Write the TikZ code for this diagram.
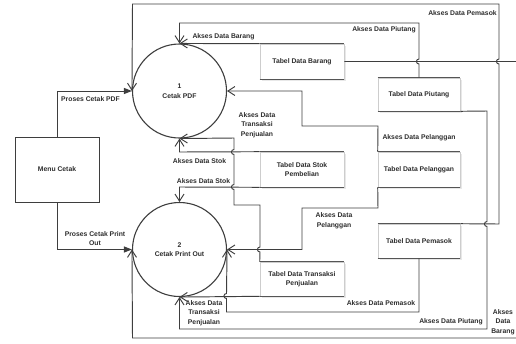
\documentclass[tikz,border=0pt]{standalone}
\usepackage{fontspec}
\setmainfont{Liberation Sans}
\usetikzlibrary{arrows.meta,shadows}

\definecolor{linec}{RGB}{62,62,62}
\definecolor{textc}{RGB}{45,45,45}
\definecolor{storeedge}{RGB}{85,85,85}
\definecolor{storeside}{RGB}{205,205,205}

% small line jumps on vertical connector segments (bulge to the left)
\newcommand\jumpup[2]{-- (#1,#2+2.5) .. controls (#1-3.4,#2+2.5) and (#1-3.4,#2-2.5) .. (#1,#2-2.5)}
\newcommand\jumpdown[2]{-- (#1,#2-2.5) .. controls (#1-3.4,#2-2.5) and (#1-3.4,#2+2.5) .. (#1,#2+2.5)}

\begin{document}
\begin{tikzpicture}[
  x=1pt, y=-1pt,
  font=\fontsize{6.8}{9.5}\selectfont\bfseries,
  flow/.style={draw=linec, line width=0.95pt, -{Straight Barb[length=7pt,width=9pt]}},
  flowfill/.style={draw=linec, line width=0.95pt, -{Triangle[length=8pt,width=6pt]}},
  proc/.style={circle, draw=linec, line width=1.1pt, minimum size=94pt, inner sep=0pt,
    align=center, fill=white, text=textc},
  menubox/.style={rectangle, draw=linec, line width=1pt, fill=white, minimum width=84pt,
    minimum height=65pt, inner sep=0pt, text=textc,
    drop shadow={shadow xshift=1.2pt, shadow yshift=-1.2pt, opacity=0.25}},
  store/.style={rectangle, draw=storeside, line width=0.6pt, fill=white, minimum width=84pt,
    minimum height=35pt, inner sep=0pt, align=center, text=textc,
    drop shadow={shadow xshift=1.5pt, shadow yshift=-1.5pt, opacity=0.18}},
  storeline/.style={draw=storeedge, line width=1.3pt},
  lab/.style={inner sep=0pt, align=center, text=textc}
]
\useasboundingbox (0,0) rectangle (516,343);
\clip (0,0) rectangle (516,343);

% processes
\node[proc] (p1) at (179.5,91) {1\\Cetak PDF};
\node[proc] (p2) at (179.5,249.5) {2\\Cetak Print Out};

% external entity
\node[menubox] (menu) at (57,169.5) {Menu Cetak};

% data stores
\node[store] (barang) at (302,61.5) {Tabel Data Barang};
\node[store, minimum width=82pt, minimum height=33pt] (piutang) at (419,94.5) {Tabel Data Piutang};
\node[store] (stok) at (302,169.5) {Tabel Data Stok\\Pembelian};
\node[store, minimum width=82pt] (pelanggan) at (419,169.5) {Tabel Data Pelanggan};
\node[store, minimum height=34pt] (transaksi) at (302,279) {Tabel Data Transaksi\\Penjualan};
\node[store, minimum width=82pt, minimum height=34pt] (pemasok) at (419,241) {Tabel Data Pemasok};

\foreach \s in {barang,piutang,stok,pelanggan,transaksi,pemasok}{
  \draw[storeline] (\s.north west) -- (\s.north east);
  \draw[storeline] (\s.south west) -- (\s.south east);
}

% flows into Cetak PDF
\draw[flow] (barang.north west) -- (p1.north);
\draw[flow] (piutang.north) \jumpup{419}{61.5} -- (419,23) -- (179.5,23) -- (p1.north);
\draw[flow] (pemasok.north east) -- (499,224) \jumpup{499}{61.5} -- (499,4) -- (132.5,4) -- (p1.west);
\draw[flowfill] (menu.north) -- (57,91) -- (p1.west);
\draw[flow] (pelanggan.north west) -- (378,126) -- (302,126) -- (302,91) -- (p1.east);
\draw[flow] (transaksi.north west) \jumpup{260}{249.5} -- (260,205) -- (234,205)
  \jumpup{234}{187} \jumpup{234}{152} -- (234,138) -- (p1.south);
\draw[flow] (stok.north west) -- (179.5,152) -- (p1.south);

% flows into Cetak Print Out
\draw[flow] (stok.south west) -- (179.5,187) -- (p2.north);
\draw[flowfill] (menu.south) -- (57,249.5) -- (p2.west);
\draw[flow] (pelanggan.south west) -- (378,208) -- (302,208) -- (302,249.5) -- (p2.east);
\draw[flow] (pemasok.south) -- (419,312) -- (226.5,312) \jumpup{226.5}{296} -- (p2.east);
\draw[flow] (transaksi.south west) -- (p2.south);
\draw[flow] (piutang.south east) -- (487,111) \jumpdown{487}{224} -- (487,329) -- (179.5,329) -- (p2.south);
\draw[flow] (barang.east) -- (530,61.5) -- (530,338) -- (132.5,338) -- (p2.west);

% flow labels
\node[lab] (lbarang1) at (223.5,37) {Akses Data Barang};
\node[lab] (lpiutang1) at (384,30) {Akses Data Piutang};
\node[lab] (lpemasok1) at (462.5,13) {Akses Data Pemasok};
\node[lab] (lpdf) at (90.5,99) {Proses Cetak PDF};
\node[lab] (lprint) at (95,238.5) {Proses Cetak Print\\Out};
\node[lab] (ltrans1) at (257,125) {Akses Data\\Transaksi\\Penjualan};
\node[lab] (lpel1) at (419,138) {Akses Data Pelanggan};
\node[lab] (lstok1) at (199.5,161) {Akses Data Stok};
\node[lab] (lstok2) at (203.5,181) {Akses Data Stok};
\node[lab] (lpel2) at (334,221) {Akses Data\\Pelanggan};
\node[lab] (lpemasok2) at (381,303) {Akses Data Pemasok};
\node[lab] (ltrans2) at (204,313) {Akses Data\\Transaksi\\Penjualan};
\node[lab] (lpiutang2) at (451,322) {Akses Data Piutang};
\node[lab] (lbarang2) at (503,322) {Akses\\Data\\Barang};
\end{tikzpicture}
\end{document}
